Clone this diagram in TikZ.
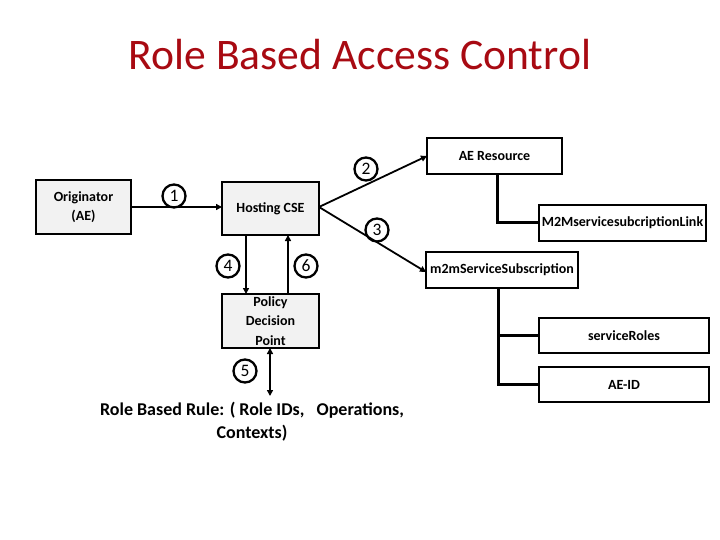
\documentclass[tikz,border=0pt]{standalone}
\usepackage{fontspec}
\setmainfont{Carlito}
\usetikzlibrary{arrows.meta}
\definecolor{titlered}{RGB}{168,10,18}
\definecolor{boxgray}{RGB}{242,242,242}
\begin{document}
\begin{tikzpicture}[x=1pt,y=-1pt,
  box/.style={draw=black, line width=2.7pt, inner sep=0pt, outer sep=0pt, align=center,
    font=\fontsize{14}{19.5}\selectfont\bfseries},
  graybox/.style={box, fill=boxgray},
  num/.style={circle, draw=black, line width=2.3pt, minimum size=23pt, inner sep=0pt,
    font=\fontsize{17.5}{17.5}\selectfont},
  arr/.style={draw=black, line width=1.8pt, -{Triangle[length=6pt,width=6pt]}},
  arrboth/.style={draw=black, line width=1.8pt, {Triangle[length=6pt,width=6pt]}-{Triangle[length=6pt,width=6pt]}},
  tree/.style={draw=black, line width=3pt}]
\useasboundingbox (0,0) rectangle (720,540);

\node[anchor=base, text=titlered, font=\fontsize{43.6}{50}\selectfont] (title) at (360,70) {Role Based Access Control};

\node[graybox, minimum width=95pt, minimum height=54pt] (orig) at (83.5,207) {Originator\\(AE)};
\node[graybox, minimum width=97pt, minimum height=53pt] (host) at (270.5,208.5) {Hosting CSE};
\node[graybox, minimum width=97pt, minimum height=54pt] (pdp) at (270.5,321) {Policy\\Decision\\Point};

\node[box, minimum width=135pt, minimum height=36pt] (aeres) at (494.5,156) {AE Resource};
\node[box, minimum width=167pt, minimum height=36pt] (link) at (622.5,223) {M2MservicesubcriptionLink};
\node[box, minimum width=152pt, minimum height=36pt] (m2m) at (502,270) {m2mServiceSubscription};
\node[box, minimum width=170pt, minimum height=35pt] (roles) at (624,335.5) {serviceRoles};
\node[box, minimum width=170pt, minimum height=35pt] (aeid) at (624,384.5) {AE-ID};

\node[align=center, font=\fontsize{18}{23}\selectfont\bfseries] (rule) at (252,422)
  {Role Based Rule: ( Role IDs,\ \ \ Operations,\\Contexts)};

\coordinate (hp) at (319,207);
\coordinate (p5) at (270,396);

% connectors
\draw[arr] (orig.east) -- (orig.east -| host.west);
\draw[arr] (hp) -- (aeres.west);
\draw[arr] (hp) -- ([yshift=-2pt]m2m.west);
\draw[arr] ([xshift=-24.5pt]host.south) -- ([xshift=-24.5pt]pdp.north);
\draw[arr] ([xshift=17.5pt]pdp.north) -- ([xshift=17.5pt]host.south);
\draw[arrboth] ([xshift=-0.5pt]pdp.south) -- (p5);

\draw[tree] ([xshift=2.5pt]aeres.south) |- (link.west);
\draw[tree] ([xshift=-4pt]m2m.south) |- (roles.west);
\draw[tree] ([xshift=-4pt]m2m.south) |- (aeid.west);

% step numbers
\node[num] (n1) at (174,196) {1};
\node[num] (n2) at (366,169) {2};
\node[num] (n3) at (377,230) {3};
\node[num] (n4) at (228,266) {4};
\node[num] (n6) at (306,266) {6};
\node[num] (n5) at (245,371) {5};
\end{tikzpicture}
\end{document}
